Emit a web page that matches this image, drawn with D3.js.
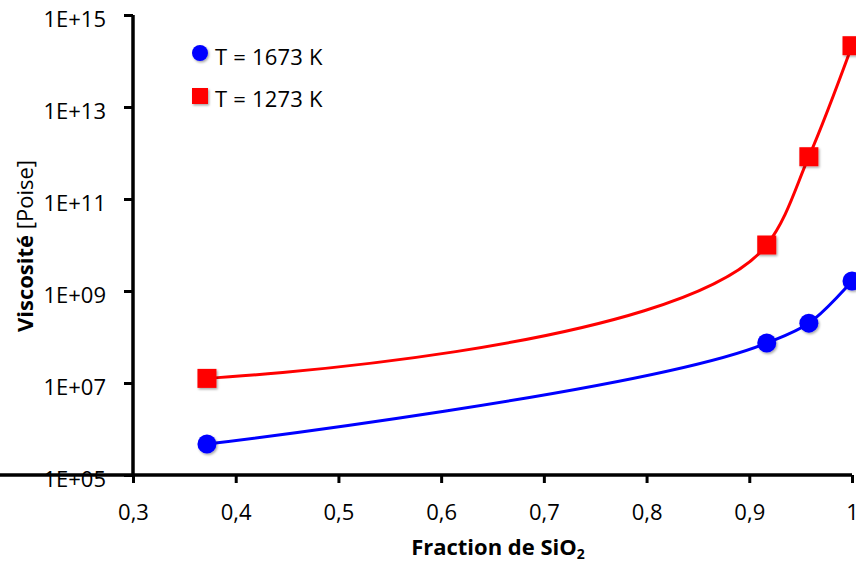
<!DOCTYPE html>
<html><head><meta charset="utf-8">
<script src="https://cdn.jsdelivr.net/npm/d3@7"></script>
<style>body{margin:0;background:#fff;}svg{display:block;}</style>
</head><body>
<script>
const fractions = [0.372, 0.917, 0.958, 1.0];
const visc1673 = [4.7e5, 7.4e7, 2.0e8, 1.65e9];
const visc1273 = [1.26e7, 1.0e10, 8.3e11, 2.15e14];
const xTicks = [0.3, 0.4, 0.5, 0.6, 0.7, 0.8, 0.9, 1.0];
const yTicks = [1e5, 1e7, 1e9, 1e11, 1e13, 1e15];
const seriesNames = ["T = 1673 K", "T = 1273 K"];

const W = 856, H = 564;
const svg = d3.select("body").append("svg").attr("width", W).attr("height", H);
const defs = svg.append("defs");
const f = defs.append("filter").attr("id","sh").attr("x","-50%").attr("y","-50%").attr("width","200%").attr("height","200%");
f.append("feDropShadow").attr("dx",1.2).attr("dy",1.5).attr("stdDeviation",1.3).attr("flood-color","#000").attr("flood-opacity",0.35);

const x = d3.scaleLinear().domain([0.3, 1.0]).range([133, 852]);
const y = d3.scaleLog().domain([1e5, 1e15]).range([475, 15]);
const font = "'Open Sans'";

const fmtX = d => d === 1 ? "1" : d3.format(".1f")(d).replace(".", ",");
const fmtY = d => "1E+" + d3.format("02d")(Math.round(Math.log10(d)));

const gx = svg.append("g").attr("transform", "translate(0,475)")
  .call(d3.axisBottom(x).tickValues(xTicks).tickFormat(fmtX).tickSize(8).tickPadding(21).tickSizeOuter(0));
const gy = svg.append("g").attr("transform", "translate(133,0)")
  .call(d3.axisLeft(y).tickValues(yTicks).tickFormat(fmtY).tickSize(9).tickPadding(18).tickSizeOuter(0));
[gx, gy].forEach(g => {
  g.attr("font-family", null).attr("font-size", null);
  g.select(".domain").attr("stroke", "#000").attr("stroke-width", 3.5);
  g.selectAll(".tick line").attr("stroke", "#000").attr("stroke-width", 3);
  g.selectAll(".tick text").attr("fill", "#000").style("font-family", font).style("font-size", "22px");
});
gy.selectAll(".tick text").attr("dy", "0.5em");
gx.selectAll(".tick text").attr("dy", "0.71em");
gx.select(".domain").attr("d", "M-1.75,0H852");
gy.select(".domain").attr("d", "M0,15V476.75");

const data = [
  {name: seriesNames[0], vals: visc1673, color: "#0000ff", shape: "circle"},
  {name: seriesNames[1], vals: visc1273, color: "#ff0000", shape: "square"}
];

const line = d3.line().x(d => x(d[0])).y(d => y(d[1])).curve(d3.curveCatmullRom.alpha(0.8));

data.forEach(s => {
  const pts = fractions.map((fr, i) => [fr, s.vals[i]]);
  svg.append("path").attr("d", line(pts)).attr("fill", "none").attr("stroke", s.color).attr("stroke-width", 3);
  const g = svg.append("g").attr("filter", "url(#sh)");
  pts.forEach(p => {
    if (s.shape === "circle") {
      g.append("circle").attr("cx", x(p[0])).attr("cy", y(p[1])).attr("r", 9.5).attr("fill", s.color);
    } else {
      g.append("rect").attr("x", x(p[0]) - 9.5).attr("y", y(p[1]) - 9.5).attr("width", 19).attr("height", 19).attr("fill", s.color);
    }
  });
});

// legend
const lg = svg.append("g");
lg.append("circle").attr("cx", 200).attr("cy", 53).attr("r", 8).attr("fill", "#0000ff").attr("filter", "url(#sh)");
lg.append("rect").attr("x", 192).attr("y", 88).attr("width", 16).attr("height", 16).attr("fill", "#ff0000").attr("filter", "url(#sh)");
lg.append("text").attr("x", 215).attr("y", 65).text(seriesNames[0])
  .style("font-family", font).style("font-size", "22px").style("letter-spacing", "0.2px");
lg.append("text").attr("x", 215).attr("y", 107).text(seriesNames[1])
  .style("font-family", font).style("font-size", "22px").style("letter-spacing", "0.2px");

// axis titles
const xt = svg.append("text").attr("x", 498).attr("y", 555).attr("text-anchor", "middle")
  .style("font-family", font).style("font-size", "22px").style("font-weight", "bold");
xt.append("tspan").text("Fraction de SiO");
xt.append("tspan").text("2").attr("dy", 4).style("font-size", "14px");

const yt = svg.append("text").attr("transform", "translate(33,246) rotate(-90)").attr("text-anchor", "middle")
  .style("font-family", font).style("font-size", "22px");
yt.append("tspan").text("Viscosité ").style("font-weight", "bold");
yt.append("tspan").text("[Poise]");
</script>
</body></html>
